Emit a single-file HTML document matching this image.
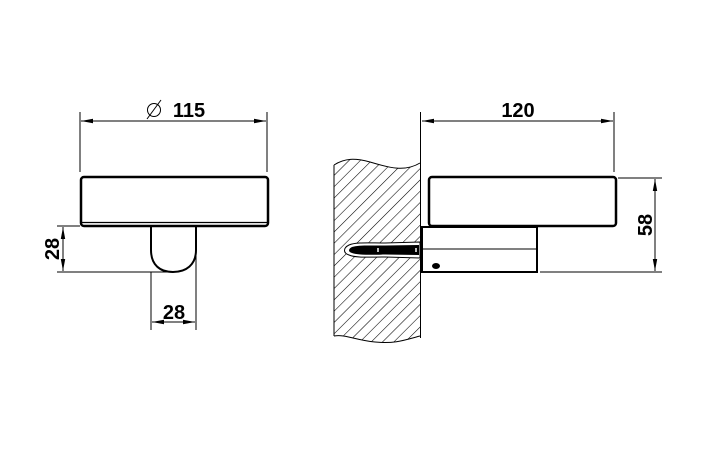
<!DOCTYPE html>
<html><head><meta charset="utf-8"><style>html,body{margin:0;padding:0;background:#fff}svg{display:block}</style></head>
<body>
<svg width="716" height="460" viewBox="0 0 716 460" xmlns="http://www.w3.org/2000/svg">
<defs>
<pattern id="h" patternUnits="userSpaceOnUse" width="8" height="8" patternTransform="rotate(45)">
<line x1="0" y1="0" x2="0" y2="8" stroke="#000" stroke-width="1.1"/>
</pattern>
<marker id="a" markerWidth="12" markerHeight="6" refX="12" refY="3" orient="auto" markerUnits="userSpaceOnUse">
<path d="M0,0.8 L12,3 L0,5.2 Z" fill="#000"/></marker>
<marker id="b" markerWidth="12" markerHeight="6" refX="0" refY="3" orient="auto" markerUnits="userSpaceOnUse">
<path d="M12,0.8 L0,3 L12,5.2 Z" fill="#000"/></marker>
</defs>
<g stroke="#000" fill="none" stroke-width="1">
<line x1="80" y1="112" x2="80" y2="172"/>
<line x1="267" y1="112" x2="267" y2="172"/>
<line x1="81" y1="121" x2="266" y2="121" marker-start="url(#b)" marker-end="url(#a)"/>
<rect x="81" y="177" width="187" height="49" rx="3" stroke-width="2.5"/>
<line x1="82" y1="222.5" x2="267" y2="222.5" stroke-width="1.2"/>
<path d="M151,227 L151,250 C151,265 160,272 173,272 C186,272 196,265 196,250 L196,227" stroke-width="2"/>
<line x1="57" y1="226" x2="80" y2="226"/>
<line x1="57" y1="272" x2="172" y2="272"/>
<line x1="63" y1="227" x2="63" y2="271" marker-start="url(#b)" marker-end="url(#a)"/>
<line x1="151" y1="272" x2="151" y2="330"/>
<line x1="196" y1="226" x2="196" y2="330"/>
<line x1="152" y1="322" x2="195" y2="322" marker-start="url(#b)" marker-end="url(#a)"/>
<path d="M334,165 C345,158 355,158 370,162 C390,168 405,172 420,163 L420,336 C405,340 395,344 375,342 C355,340 345,334 334,336 Z" fill="url(#h)" stroke="none"/>
<path d="M334,165 C345,158 355,158 370,162 C390,168 405,172 420,163"/>
<path d="M334,336 C345,334 355,340 375,342 C395,344 405,340 420,336"/>
<line x1="334" y1="165" x2="334" y2="336"/>
<line x1="420.5" y1="112" x2="420.5" y2="338"/>
<line x1="614" y1="112" x2="614" y2="172"/>
<line x1="422" y1="121" x2="613" y2="121" marker-start="url(#b)" marker-end="url(#a)"/>
<rect x="429" y="177" width="187" height="49" rx="3" stroke-width="2.5"/>
<rect x="422" y="227" width="115" height="45" stroke-width="2"/>
<line x1="422" y1="249" x2="536" y2="249"/>
<path d="M420,242 L385,243 C368,243 356,242 349,245 C343,248 343,253 349,255 C356,258 368,257 385,257 L420,258 Z" fill="#fff" stroke="#000" stroke-width="1"/>
<path d="M419,245 L385,245.5 C368,245.5 358,245 352,247 C348,249 348,252 352,253 C358,255 368,255 385,254.5 L419,255 Z" fill="#000" stroke="none"/>
<line x1="378" y1="248" x2="378" y2="252" stroke="#fff" stroke-width="1.5"/>
<line x1="416" y1="248" x2="416" y2="252" stroke="#fff" stroke-width="1.5"/>
<line x1="618" y1="178" x2="662" y2="178"/>
<line x1="540" y1="272" x2="662" y2="272"/>
<line x1="655" y1="179" x2="655" y2="271" marker-start="url(#b)" marker-end="url(#a)"/>
</g>
<ellipse cx="436" cy="266" rx="4" ry="3" fill="#000"/>
<g font-family="Liberation Sans, sans-serif" font-weight="bold" font-size="20" fill="#000" text-anchor="middle">
<text x="189" y="117">115</text>
<text x="518" y="117">120</text>
<text x="174" y="319">28</text>
<text transform="translate(59,249) rotate(-90)">28</text>
<text transform="translate(652,225) rotate(-90)">58</text>
</g>
<g stroke="#000" fill="none" stroke-width="1">
<circle cx="154" cy="110" r="6.5"/>
<line x1="147" y1="119" x2="161" y2="100"/>
</g>
</svg>
</body></html>
